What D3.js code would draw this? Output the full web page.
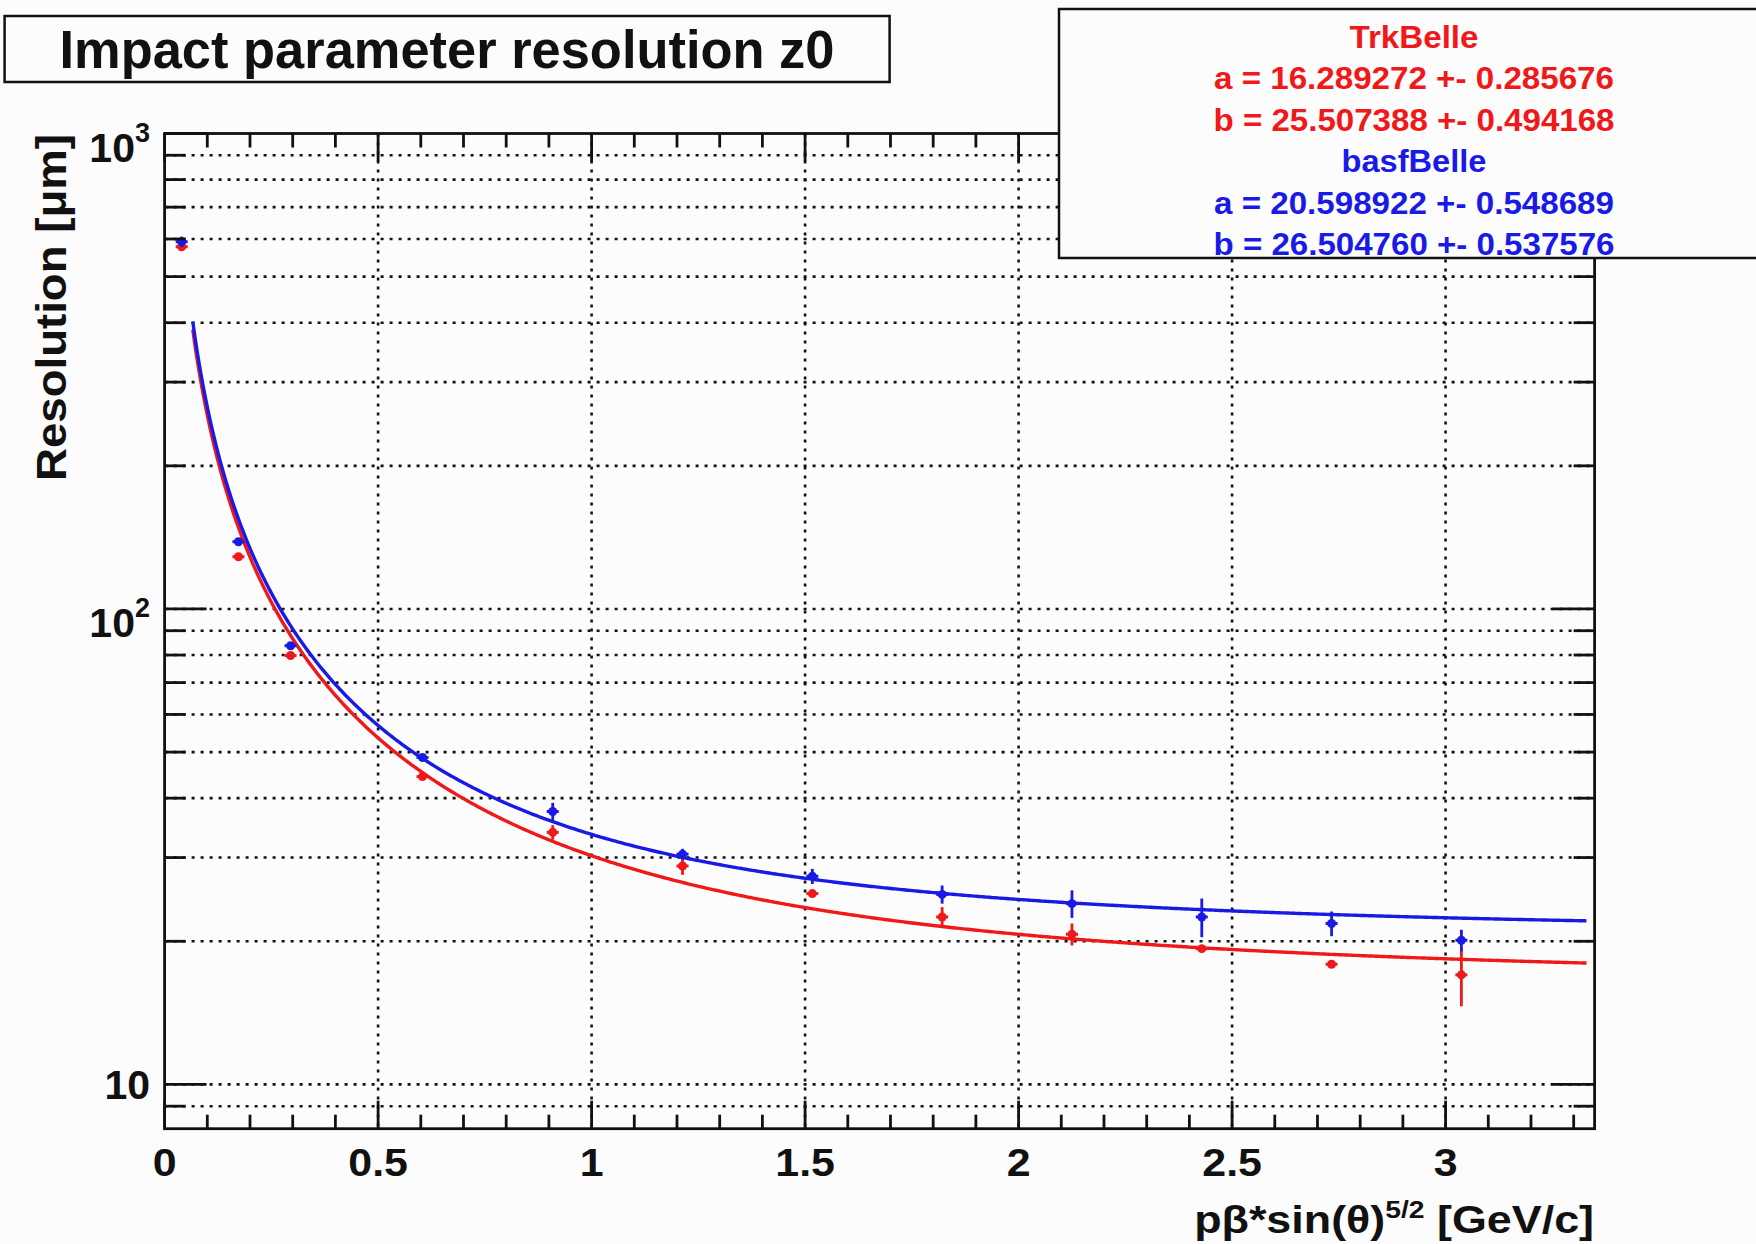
<!DOCTYPE html>
<html>
<head>
  <meta charset="UTF-8">
  <style>
    body {
      margin: 0;
      background: #fcfcfd;
      font-family: "Liberation Sans", Arial, sans-serif;
    }
    svg text {
      font-weight: bold;
    }
  </style>
</head>
<body>
  <svg id="chart" width="1756" height="1244"></svg>
  <script src="https://d3js.org/d3.v7.min.js"></script>
  <script>
    // measured points (p beta sin^5/2, resolution in um)
    let xVals = [0.040, 0.173, 0.295, 0.604, 0.909, 1.213, 1.517, 1.821, 2.125, 2.429, 2.733, 3.037];
    let trkVals = [578, 128.8, 79.8, 44.4, 33.9, 28.8, 25.2, 22.5, 20.7, 19.3, 17.9, 17.0];
    let trkErr = [12, 2, 1.2, 0.7, 1.2, 1.2, 0.3, 1.1, 1.1, 0.3, 0.3, 2.4];
    let basfVals = [592, 138.5, 83.7, 48.7, 37.5, 30.5, 27.4, 25.1, 24.0, 22.5, 21.8, 20.1];
    let basfErr = [15, 2.5, 1.5, 0.8, 1.6, 0.8, 1.0, 1.1, 1.6, 2.1, 1.3, 1.05];

    // fit results, sigma = sqrt(a^2 + (b/x)^2)
    let fitNames = ["TrkBelle", "basfBelle"];
    let fitA = [16.289272, 20.598922];
    let fitAErr = [0.285676, 0.548689];
    let fitB = [25.507388, 26.504760];
    let fitBErr = [0.494168, 0.537576];
    let fitRange = [0.066, 3.33];

    let xTickLabels = [0, 0.5, 1, 1.5, 2, 2.5, 3];
    let yDecades = [10, 100, 1000];

    let red = "#f01818", blue = "#1a1ae6";

    let svg = d3.select("#chart");
    let pLeft = 164.6, pRight = 1594.6, pTop = 133.5, pBottom = 1128.7;

    let x = d3.scaleLinear().domain([0, 3.349]).range([pLeft, pRight]);
    let y = d3.scaleLog().domain([8.07, 1000]).range([pBottom, pTop]);

    // y tick positions on the log axis
    let yMinor = [9];
    [10, 100].forEach(d => { for (let k = 2; k <= 9; k++) yMinor.push(d * k); });
    let xMinor = d3.range(0, 3.35, 0.1).filter(d => Math.abs(d * 2 - Math.round(d * 2)) > 1e-6);

    // grid
    let grid = svg.append("g").attr("stroke", "#111").attr("stroke-width", 2.6).attr("stroke-dasharray", "3,6");
    grid.selectAll(".gy").data(yMinor.concat([10, 100]))
      .enter().append("line")
      .attr("x1", pLeft).attr("x2", pRight)
      .attr("y1", d => y(d)).attr("y2", d => y(d));
    grid.selectAll(".gx").data(xTickLabels.filter(d => d > 0))
      .enter().append("line")
      .attr("x1", d => x(d)).attr("x2", d => x(d))
      .attr("y1", pTop).attr("y2", pBottom);

    // fit curves
    let line = d3.line().x(d => x(d[0])).y(d => y(d[1]));
    [red, blue].forEach((c, i) => {
      let pts = d3.range(fitRange[0], fitRange[1], 0.005).concat([fitRange[1]])
        .map(v => [v, Math.sqrt(fitA[i] * fitA[i] + Math.pow(fitB[i] / v, 2))]);
      svg.append("path").datum(pts)
        .attr("d", line)
        .attr("fill", "none")
        .attr("stroke", c)
        .attr("stroke-width", 3.4);
    });

    // data points with error bars
    function drawPoints(vals, errs, color) {
      let g = svg.append("g").attr("stroke", color).attr("fill", color);
      let pts = xVals.map((v, i) => ({x: v, y: vals[i], e: errs[i]}));
      g.selectAll(".eb").data(pts).enter().append("line")
        .attr("x1", d => x(d.x)).attr("x2", d => x(d.x))
        .attr("y1", d => y(d.y - d.e)).attr("y2", d => y(d.y + d.e))
        .attr("stroke-width", 2.8);
      g.selectAll(".hb").data(pts).enter().append("line")
        .attr("x1", d => x(d.x) - 6).attr("x2", d => x(d.x) + 6)
        .attr("y1", d => y(d.y)).attr("y2", d => y(d.y))
        .attr("stroke-width", 3);
      g.selectAll("circle").data(pts).enter().append("circle")
        .attr("cx", d => x(d.x)).attr("cy", d => y(d.y))
        .attr("r", 4.5).attr("stroke", "none");
    }
    drawPoints(trkVals, trkErr, red);
    drawPoints(basfVals, basfErr, blue);

    // frame
    svg.append("rect")
      .attr("x", pLeft).attr("y", pTop)
      .attr("width", pRight - pLeft).attr("height", pBottom - pTop)
      .attr("fill", "none").attr("stroke", "#111").attr("stroke-width", 2.8);

    // ticks, both sides, inward
    let ticks = svg.append("g").attr("stroke", "#111").attr("stroke-width", 2.8);
    function yTick(d, len) {
      ticks.append("line").attr("x1", pLeft).attr("x2", pLeft + len).attr("y1", y(d)).attr("y2", y(d));
      ticks.append("line").attr("x1", pRight).attr("x2", pRight - len).attr("y1", y(d)).attr("y2", y(d));
    }
    function xTick(d, len) {
      ticks.append("line").attr("x1", x(d)).attr("x2", x(d)).attr("y1", pBottom).attr("y2", pBottom - len);
      ticks.append("line").attr("x1", x(d)).attr("x2", x(d)).attr("y1", pTop).attr("y2", pTop + len);
    }
    yMinor.forEach(d => yTick(d, 21));
    yDecades.forEach(d => yTick(d, 42));
    xMinor.forEach(d => xTick(d, 14));
    xTickLabels.forEach(d => xTick(d, 28));

    // x tick labels
    svg.append("g").selectAll("text").data(xTickLabels)
      .enter().append("text")
      .attr("transform", d => `translate(${x(d)},1176) scale(1.1,1)`)
      .attr("text-anchor", "middle")
      .style("font-size", "39px")
      .attr("fill", "#111")
      .text(d => d);

    // y tick labels
    yDecades.forEach(d => {
      let exp = Math.round(Math.log10(d));
      if (exp === 1) {
        svg.append("text").attr("x", 150).attr("y", y(d) + 15)
          .attr("text-anchor", "end").style("font-size", "41px").attr("fill", "#111")
          .text("10");
      } else {
        let t = svg.append("text").attr("x", 150).attr("y", y(d) + 28)
          .attr("text-anchor", "end").style("font-size", "41px").attr("fill", "#111");
        t.append("tspan").text("10");
        t.append("tspan").attr("dy", -20).style("font-size", "27px").text(exp);
      }
    });

    // axis titles
    svg.append("text")
      .attr("transform", "translate(66,134) rotate(-90)")
      .attr("text-anchor", "end")
      .style("font-size", "43px")
      .attr("textLength", 347).attr("lengthAdjust", "spacingAndGlyphs")
      .attr("fill", "#111")
      .text("Resolution [\u03bcm]");

    let xt = svg.append("text")
      .attr("text-anchor", "end")
      .style("font-size", "38px")
      .attr("fill", "#111");
    xt.append("tspan").text("p\u03b2*sin(\u03b8)");
    xt.append("tspan").attr("dy", -15).style("font-size", "24px").text("5/2");
    xt.append("tspan").attr("dy", 15).text(" [GeV/c]");
    let xtw = xt.node().getBBox().width;
    xt.attr("transform", `translate(1594,1233) scale(${400 / xtw},1)`);

    // title box
    svg.append("rect")
      .attr("x", 4.6).attr("y", 16).attr("width", 885).attr("height", 66)
      .attr("fill", "#fcfcfd").attr("stroke", "#111").attr("stroke-width", 2.5);
    svg.append("text")
      .attr("x", 447).attr("y", 68)
      .attr("text-anchor", "middle")
      .style("font-size", "54px")
      .attr("textLength", 775).attr("lengthAdjust", "spacingAndGlyphs")
      .attr("fill", "#111")
      .text("Impact parameter resolution z0");

    // fit parameter box
    svg.append("rect")
      .attr("x", 1059).attr("y", 9).attr("width", 760).attr("height", 249)
      .attr("fill", "#fcfcfd").attr("stroke", "#111").attr("stroke-width", 2.5);
    let fmt = d3.format(".6f");
    let statLines = [];
    fitNames.forEach((n, i) => {
      let c = i === 0 ? red : blue;
      statLines.push({t: n, c: c, w: i === 0 ? 129 : 145});
      statLines.push({t: `a = ${fmt(fitA[i])} +- ${fmt(fitAErr[i])}`, c: c, w: 400});
      statLines.push({t: `b = ${fmt(fitB[i])} +- ${fmt(fitBErr[i])}`, c: c, w: 401});
    });
    svg.append("g").selectAll("text").data(statLines)
      .enter().append("text")
      .attr("x", 1414).attr("y", (d, i) => 48 + i * 41.4)
      .attr("text-anchor", "middle")
      .style("font-size", "31px")
      .attr("textLength", d => d.w).attr("lengthAdjust", "spacingAndGlyphs")
      .attr("fill", d => d.c)
      .text(d => d.t);
  </script>
</body>
</html>
